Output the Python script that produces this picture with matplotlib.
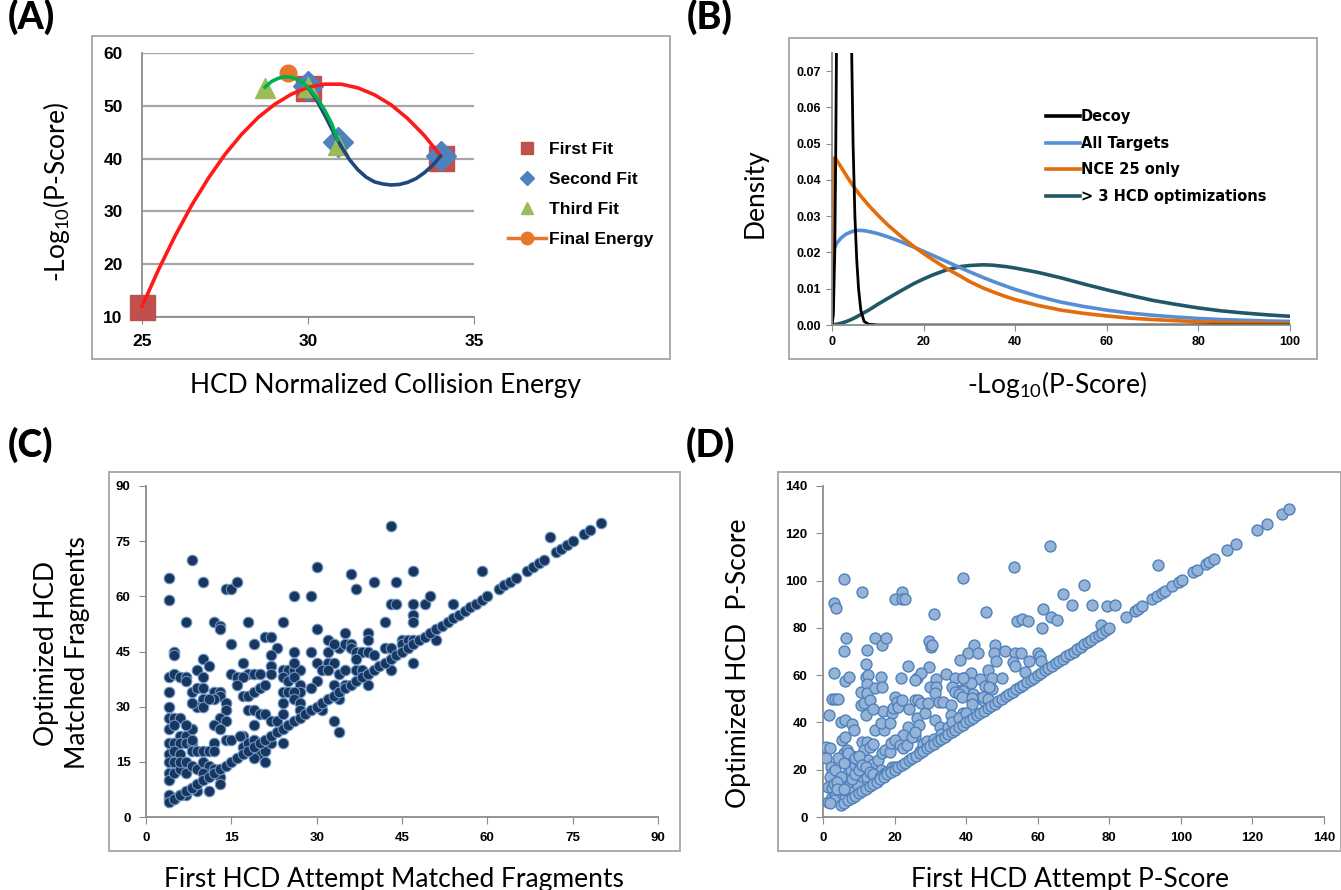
"""Four-panel figure: HCD collision energy optimisation (A), P-score densities (B),
and first-attempt vs optimised scatter plots (C, D)."""

import matplotlib
matplotlib.use("Agg")
import matplotlib.pyplot as plt
from matplotlib.lines import Line2D
from matplotlib.patches import Rectangle

plt.rcParams["mathtext.default"] = "regular"

W, H = 1341, 890
LABEL_FONT = "Lato"
TICK_FONT = ["Liberation Sans", "DejaVu Sans"]
NARROW_FONT = ["Liberation Sans Narrow", "Liberation Sans", "DejaVu Sans"]
LABEL_SIZE = 19

# ---------------- panel A: energy optimisation ----------------
first_fit_x = [25, 30, 34]
first_fit_y = [11.8, 53.3, 40.2]
second_fit_x = [30, 30.9, 34]
second_fit_y = [53.8, 43.1, 40.4]
third_fit_x = [28.7, 30, 30.9]
third_fit_y = [53.3, 53.5, 42.5]
final_x = [29.4]
final_y = [56.3]

red_curve_x = [25, 25.5, 26, 26.5, 27, 27.5, 28, 28.5, 29, 29.5, 30, 30.5, 31,
               31.5, 32, 32.5, 33, 33.5, 34]
red_curve_y = [12.0, 19.0, 25.4, 31.2, 36.3, 40.8, 44.6, 47.8, 50.3, 52.2, 53.5,
               54.1, 54.1, 53.4, 52.1, 50.2, 47.6, 44.4, 40.5]
blue_curve_x = [30, 30.25, 30.5, 30.75, 31, 31.25, 31.5, 31.75, 32, 32.25, 32.5,
                32.75, 33, 33.25, 33.5, 33.75, 34]
blue_curve_y = [53.5, 51.2, 48.3, 45.2, 42.3, 39.8, 37.9, 36.5, 35.6, 35.2, 35.0,
                35.1, 35.5, 36.2, 37.3, 38.7, 40.5]
green_curve_x = [28.7, 28.9, 29.1, 29.3, 29.5, 29.7, 29.9, 30.1, 30.3, 30.5, 30.7,
                 30.9]
green_curve_y = [53.5, 54.6, 55.2, 55.5, 55.4, 54.9, 54.1, 52.8, 51.2, 49.2, 46.8,
                 43.5]

# ---------------- panel B: density curves ----------------
decoy_x = [0, 0.3, 0.6, 0.8, 1.0, 1.5, 2.5, 3.5, 4.0, 4.3, 4.6, 5.0, 5.4, 5.8,
           6.3, 7.0, 8.0, 10, 100]
decoy_y = [0, 0.003, 0.02, 0.045, 0.08, 0.2, 0.3, 0.2, 0.12, 0.075, 0.05, 0.03,
           0.018, 0.01, 0.004, 0.001, 0.0002, 0, 0]
dens_x = [0, 0.3, 1, 2, 3, 4, 5, 6, 7, 8, 10, 12, 15, 18, 20, 22, 25, 28, 30, 33,
          35, 38, 40, 45, 50, 55, 60, 65, 70, 75, 80, 85, 90, 95, 100]
all_targets = [0.0195, 0.0205, 0.0225, 0.0240, 0.0250, 0.0256, 0.0260, 0.0261,
               0.0260, 0.0258, 0.0252, 0.0244, 0.0230, 0.0214, 0.0203, 0.0192,
               0.0175, 0.0158, 0.0147, 0.0131, 0.0121, 0.0107, 0.0098, 0.0079,
               0.0063, 0.0051, 0.0041, 0.0033, 0.0027, 0.0022, 0.0018, 0.0015,
               0.0013, 0.0011, 0.0010]
nce25_only = [0, 0.0460, 0.0455, 0.0435, 0.0415, 0.0395, 0.0377, 0.0360, 0.0345,
              0.0330, 0.0303, 0.0278, 0.0245, 0.0215, 0.0197, 0.0180, 0.0156,
              0.0135, 0.0120, 0.0102, 0.0092, 0.0078, 0.0070, 0.0054, 0.0041,
              0.0032, 0.0025, 0.0019, 0.0015, 0.0012, 0.0009, 0.0007, 0.0006,
              0.0005, 0.0004]
over3_hcd = [0, 0.00005, 0.0002, 0.0005, 0.0009, 0.0014, 0.0020, 0.0027, 0.0034,
             0.0041, 0.0057, 0.0072, 0.0094, 0.0115, 0.0127, 0.0138, 0.0152,
             0.0161, 0.0164, 0.0166, 0.0165, 0.0161, 0.0157, 0.0145, 0.0130,
             0.0113, 0.0097, 0.0082, 0.0068, 0.0057, 0.0047, 0.0039, 0.0033,
             0.0028, 0.0024]
dens_labels = ["Decoy", "All Targets", "NCE 25 only", "> 3 HCD optimizations"]

# ---------------- panel C: matched fragments ----------------
# peptides whose fragment count did not change (first == optimised)
c_same = [4, 5, 6, 7, 8, 9, 10, 11, 12, 13, 14, 15, 16, 17, 18, 19, 20, 21, 22, 23,
          24, 25, 26, 27, 28, 29, 30, 31, 32, 33, 34, 35, 36, 37, 38, 39, 40, 41,
          42, 43, 44, 45, 46, 47, 48, 49, 50, 51, 52, 53, 54, 55, 56, 57, 58, 59,
          60, 62, 63, 64, 65, 67, 68, 69, 70, 72, 73, 74, 75, 77, 78, 80]
c_first = [8, 4, 4, 10, 14, 15, 16, 26, 29, 30, 36, 37, 40, 44, 43, 47, 71, 59,
           7, 12, 13, 13, 18, 24, 30, 42, 47, 47,
           43, 44, 47, 49, 50, 54,
           15, 19, 21, 22, 23, 22, 26, 5, 5,
           29, 32, 34, 35, 32, 33, 35, 36, 36, 37, 38, 39, 39, 39, 40, 42, 43, 45,
           45, 46, 47, 47, 43, 51,
           10, 11, 9, 10, 4, 5, 6, 7, 7,
           17, 15, 16, 18, 19, 20, 17, 22, 22, 24, 25, 26, 27, 24, 25, 26, 26,
           30, 32, 33, 31, 32, 34, 35, 37, 37, 38, 39, 39, 35, 33, 27, 30, 29, 27,
           34, 34, 31, 33, 34,
           4, 4, 8, 9, 10, 10, 9, 10, 8, 12, 13, 13, 12, 11, 14, 14, 13, 14, 12, 13,
           16, 17, 18, 19, 20, 21,
           24, 25, 26, 26, 27, 27, 24,
           4, 5, 6, 4, 4, 4, 5, 6, 7, 5, 6, 7, 8, 5, 6, 8, 9, 10, 11, 12, 12, 8, 7, 8,
           14, 15, 18, 19, 20, 21, 22, 23, 24, 19,
           17, 17, 18, 19, 20, 21, 22, 16.5, 19, 21, 24,
           4, 4, 4, 5, 5, 6, 6, 7, 7, 8, 9, 10, 11, 12, 10, 13, 13, 11, 9, 8, 7, 6, 4,
           5, 4]
c_opt = [70, 65, 59, 64, 62, 62, 64, 60, 60, 68, 66, 62, 64, 64, 79, 67, 76, 67,
         53, 53, 52, 51, 53, 53, 51, 53, 55, 53,
         58, 58, 58, 58, 60, 58,
         47, 47, 49, 49, 46, 44, 45, 45, 44,
         45, 45, 46, 47, 48, 47, 50, 47, 46, 45, 45, 45, 50, 48, 44, 46, 46, 48,
         47, 48, 48, 42, 40, 48,
         43, 41, 40, 38, 38, 39, 38, 38, 37,
         42, 39, 38, 39, 39, 39, 38, 41, 39, 40, 40, 40, 40, 38, 37, 42, 38,
         42, 42, 42, 40, 40, 39, 40, 43, 40, 40, 39, 36, 36, 36, 36, 37, 35, 34,
         34, 32, 29, 26, 23,
         34, 30, 34, 35, 35, 32, 30, 30, 31, 34, 34, 33, 32, 32, 31, 29, 27, 26, 25,
         24,
         36, 33, 33, 34, 35, 36,
         34, 34, 34, 32, 31, 29, 31,
         27, 27, 27, 24, 20, 17, 25, 22, 22, 20, 20, 20, 20, 18, 17, 18, 18, 18, 18,
         20, 18, 24, 25, 21,
         21, 21, 29, 29, 28, 28, 26, 26, 28, 25,
         22, 19, 20, 21, 17, 18, 20, 22, 16, 15, 20,
         15, 12, 10, 15, 12, 13, 15, 15, 12, 14, 13, 15, 14, 13, 12, 11, 9, 7, 7, 8,
         6, 6, 5, 5, 6]

# ---------------- panel D: P-scores ----------------
d_same = [5, 6, 7, 8, 9, 10, 11, 12, 13, 14, 15, 16, 17, 18, 19, 20, 21, 22, 23,
          24, 25, 26, 27, 28, 29, 30, 31, 32, 33, 34, 35, 36, 37, 38, 39, 40, 41,
          42, 43, 44, 45, 46, 47, 48, 49, 50, 51, 52, 53, 54, 55, 56, 57, 58, 59,
          60, 61, 62, 63, 64, 65, 66, 67, 68, 69, 70, 71, 72, 73, 74, 75, 76, 77,
          78, 79, 80, 84.6, 87.2, 88, 89.2, 92, 93.4, 94.6, 95.6, 97.6, 99.5,
          100.3, 103.5, 104.4, 107, 107.8, 109.2, 112.8, 115.4, 121.4, 124, 128.2,
          130.2]
d_first = [6, 11, 3, 3.5, 20, 22, 22, 23, 31, 39, 53.5, 63.5, 45.6, 54.2, 55.5,
           57.4, 61.5, 61.3, 63.7, 65.4, 67.2, 69.7, 72.8, 75.1, 79.3, 81.5, 93.7,
           77.7,
           6.3, 6, 14.5, 16.4, 17.6, 12.2, 29.7, 30.2, 30.5, 42.3, 40.6, 43.2, 48,
           47.7, 50.9, 53.7, 55.2, 60.2, 60.5, 61,
           3.2, 11.9, 12, 12.7, 6.1, 7.4, 16.2, 21.9, 23.8, 29.7, 26.3, 27.4, 25.7,
           31.5, 34.3, 36.9, 38.3, 53.2, 53.6, 57.6, 48.3, 46.2, 41.4, 39.1, 43.8,
           47.2, 50, 56.4,
           10.5, 12.2, 12.4, 14.5, 16.4, 29.9, 31.5, 31.3, 38.7, 41.4, 45.3, 47.3,
           46.4, 39.2, 36, 37, 38, 42, 44, 45,
           2.4, 3.4, 4.3, 1.8, 5, 6.1, 8, 8.8, 10.6, 11.5, 13.1, 16.9, 19.2, 19.6,
           14.5, 17.1, 16.2, 18.8, 20.1, 20.6, 21, 22.2, 24, 25.7, 26.6, 27.4,
           26.4, 26.8, 28.5, 29.4, 23.8, 32.4, 33.6, 31.3, 32.7, 35.7, 35.7, 39.2,
           38.9, 44.7, 46.2, 41.6, 41.6, 39.2, 12, 14,
           5.2, 6.1, 25.7, 22.4, 0.7, 2, 0.8, 2.2, 2.4, 2, 1.5, 2.4, 1.3, 2.6, 3.4,
           5.2, 4.7, 6.1, 7.1, 7.8, 5.9, 6.6, 8, 10.8, 12.2, 11.5, 13.1, 14.1, 8.9,
           9.9, 10.8, 12.7, 14.1, 15.5, 16.4, 17.3, 18.7, 19, 20.1, 21.5, 16.2,
           17.3, 19.2, 10.8, 12.2, 13.6, 7.1, 8.8, 9.9, 22.4, 23.4, 24.8, 25.7,
           4.3, 3.4, 5, 3, 4, 6, 7, 9, 10, 3, 2, 4, 6, 8, 9, 10, 11, 12, 13, 14, 16,
           18, 20, 27, 28, 29, 31, 33, 35, 36, 38, 40]
d_opt = [100.5, 95, 90.4, 88.3, 92.2, 95, 92.2, 92, 86, 101, 105.7, 114.6, 86.9,
         82.9, 83.7, 83, 88.1, 80, 84.6, 83.3, 94.4, 89.8, 98.3, 89.8, 89.2, 89.8,
         106.7, 81.2,
         75.6, 70.4, 75.6, 72.8, 75.6, 70.7, 74.6, 71.8, 72.8, 72.8, 69.5, 69.5,
         72.8, 69.5, 70.4, 69.5, 69.5, 69.5, 68, 66,
         61.1, 64.6, 59.1, 60, 57.7, 59.1, 59.1, 59, 64, 63.6, 58.9, 60.8, 58,
         58.4, 60.5, 59, 66.4, 65.5, 63.7, 66, 66, 62.2, 61, 58.6, 58.3, 58.8,
         58.8, 61.4,
         53, 56.3, 52.3, 54.4, 55.1, 55.1, 54.9, 52.3, 53.7, 56.5, 55.4, 54, 55,
         53.4, 55, 53, 52, 52, 50.5, 49,
         49.8, 49.8, 49.8, 43.2, 40.3, 41, 39.4, 36.8, 47.4, 48.1, 49.5, 45, 44.1,
         46, 36.8, 36.8, 39.9, 39.6, 50.9, 48.5, 46.7, 49.5, 45.6, 49.5, 49.5,
         48.4, 41.7, 38.9, 43.9, 48.1, 37.9, 48.8, 48.8, 41, 38.2, 47.4, 43.2, 59,
         50.9, 50.6, 49.8, 50.2, 47.8, 43.8, 43, 45.5,
         32.6, 34, 34.3, 34.7, 29.8, 29, 24.8, 21.3, 18.5, 16.8, 12.6, 12.1, 6.5,
         8.6, 8.9, 11.4, 17.1, 15, 18.5, 19.9, 26.9, 28.3, 25.8, 31.9, 31.9, 28.3,
         29.8, 30.9, 22, 24.1, 21.3, 24.1, 22.4, 24.1, 26.9, 28.3, 27.6, 31.5,
         32.6, 30.5, 19.9, 18.5, 21.3, 15.7, 17.1, 18.5, 12.8, 11.1, 13.1, 29,
         30.5, 34, 36.1,
         24.8, 19.9, 17.1, 14, 15, 23, 27, 25, 26, 7, 6, 12, 12, 16, 18, 20, 22, 21,
         19, 18, 17, 19, 21, 28, 31, 32, 33, 35, 38, 40, 42, 44]


def px_axes(fig, left, top, right, bottom):
    return fig.add_axes([left / W, 1 - bottom / H, (right - left) / W,
                         (bottom - top) / H])


def frame(fig, left, top, right, bottom):
    fig.add_artist(Rectangle((left / W, 1 - bottom / H), (right - left) / W,
                             (bottom - top) / H, transform=fig.transFigure,
                             fill=False, ec="#ABABAB", lw=1.4))


def ftext(fig, x, y, s, **kw):
    fig.text(x / W, 1 - y / H, s, **kw)


def style_axes(ax, fontsize, family=TICK_FONT):
    for side in ("top", "right"):
        ax.spines[side].set_visible(False)
    for side in ("left", "bottom"):
        ax.spines[side].set_color("#8C8C8C")
        ax.spines[side].set_linewidth(1.3)
    for t in ax.get_xticklabels() + ax.get_yticklabels():
        t.set_family(family)
        t.set_fontweight("bold")
        t.set_fontsize(fontsize)


fig = plt.figure(figsize=(W / 100, H / 100), dpi=100)

# frames and panel letters
frame(fig, 92, 36, 670, 359)
frame(fig, 789, 38, 1317, 359)
frame(fig, 109, 472, 680, 851)
frame(fig, 778, 472, 1341, 851)
for letter, x, y in [("(A)", 8, -1), ("(B)", 687, -1), ("(C)", 8, 427), ("(D)", 686, 427)]:
    ftext(fig, x, y, letter, family=LABEL_FONT, fontsize=27, fontweight="black",
          va="top", ha="left")

# ---------- A ----------
axA = px_axes(fig, 142, 53, 474, 317)
axA.set_xlim(25, 35)
axA.set_ylim(10, 60)
axA.set_xticks([25, 30, 35])
axA.set_yticks([10, 20, 30, 40, 50, 60])
axA.grid(axis="y", color="#A6A6A6", lw=1.6)
axA.set_axisbelow(True)
axA.tick_params(axis="y", length=0, pad=14)
axA.tick_params(axis="x", length=5, color="#8C8C8C", pad=7)
style_axes(axA, 12.5)

axA.plot(first_fit_x, first_fit_y, ls="none", marker="s", ms=18,
         color="#C0504D", clip_on=False, zorder=3)
axA.plot(second_fit_x, second_fit_y, ls="none", marker="D", ms=15,
         color="#4F81BD", clip_on=False, zorder=4)
axA.plot(third_fit_x, third_fit_y, ls="none", marker="^", ms=14,
         color="#9BBB59", clip_on=False, zorder=5)
axA.plot(final_x, final_y, ls="none", marker="o", ms=12, color="#E8762C",
         clip_on=False, zorder=5)
axA.plot(red_curve_x, red_curve_y, color="#FF1A1A", lw=2.6, zorder=6,
         clip_on=False, solid_capstyle="round")
axA.plot(blue_curve_x, blue_curve_y, color="#1F497D", lw=2.6, zorder=6,
         solid_capstyle="round")
axA.plot(green_curve_x, green_curve_y, color="#00B050", lw=2.6, zorder=7,
         solid_capstyle="round")

handles_a = [
    Line2D([], [], ls="none", marker="s", ms=9, color="#C0504D"),
    Line2D([], [], ls="none", marker="D", ms=7, color="#4F81BD"),
    Line2D([], [], ls="none", marker="^", ms=9, color="#9BBB59"),
    Line2D([], [], color="#E8762C", lw=2.5, marker="o", ms=9),
]
fig.legend(handles_a, ["First Fit", "Second Fit", "Third Fit", "Final Energy"],
           loc="upper left", bbox_to_anchor=(508 / W, 1 - 142 / H),
           frameon=False, handlelength=2.2, handletextpad=0.15,
           labelspacing=0.85, borderpad=0, borderaxespad=0,
           prop={"family": TICK_FONT, "weight": "bold", "size": 12.5})

ftext(fig, 385, 393, "HCD Normalized Collision Energy", family=LABEL_FONT,
      fontsize=LABEL_SIZE, ha="center", va="baseline")
ftext(fig, 57, 192, "-Log$_{10}$(P-Score)", family=LABEL_FONT,
      fontsize=LABEL_SIZE, rotation=90, ha="center", va="center")

# ---------- B ----------
axB = px_axes(fig, 832, 53, 1290, 325)
axB.set_xlim(0, 100)
axB.set_ylim(0, 0.075)
axB.set_xticks([0, 20, 40, 60, 80, 100])
axB.set_yticks([0, 0.01, 0.02, 0.03, 0.04, 0.05, 0.06, 0.07])
axB.yaxis.set_major_formatter(matplotlib.ticker.FormatStrFormatter("%.2f"))
axB.tick_params(length=4, color="#8C8C8C", pad=4)
axB.plot(dens_x, over3_hcd, color="#205867", lw=2.6, label=dens_labels[3])
axB.plot(dens_x, all_targets, color="#558ED5", lw=2.6, label=dens_labels[1])
axB.plot(dens_x, nce25_only, color="#E46C0A", lw=2.6, label=dens_labels[2])
axB.plot(decoy_x, decoy_y, color="black", lw=2.0, label=dens_labels[0])
style_axes(axB, 9, NARROW_FONT)
handles_b = [Line2D([], [], color=c, lw=2.6)
             for c in ["black", "#558ED5", "#E46C0A", "#205867"]]
fig.legend(handles_b, dens_labels, loc="upper left",
           bbox_to_anchor=(1046 / W, 1 - 109 / H), frameon=False,
           handlelength=2.3, handletextpad=0.1, labelspacing=0.8, borderpad=0,
           borderaxespad=0,
           prop={"family": "DejaVu Sans", "weight": "bold", "size": 10.5})
ftext(fig, 1057, 393, "-Log$_{10}$(P-Score)", family=LABEL_FONT,
      fontsize=LABEL_SIZE, ha="center", va="baseline")
ftext(fig, 755, 193, "Density", family=LABEL_FONT, fontsize=LABEL_SIZE,
      rotation=90, ha="center", va="center")

# ---------- C ----------
axC = px_axes(fig, 146, 486, 658, 817)
axC.set_xlim(0, 90)
axC.set_ylim(0, 90)
axC.set_xticks(range(0, 91, 15))
axC.set_yticks(range(0, 91, 15))
axC.tick_params(length=5, color="#8C8C8C", pad=6)
axC.scatter(c_first, c_opt, s=58, c="#17375E", edgecolors="#7096C8",
            linewidths=0.8, zorder=3)
axC.scatter(c_same, c_same, s=58, c="#17375E", edgecolors="#7096C8",
            linewidths=0.8, zorder=3)
style_axes(axC, 9.5)
ftext(fig, 394, 887, "First HCD Attempt Matched Fragments", family=LABEL_FONT,
      fontsize=LABEL_SIZE, ha="center", va="baseline")
ftext(fig, 62, 653, "Optimized HCD\nMatched Fragments", family=LABEL_FONT,
      fontsize=LABEL_SIZE, rotation=90, ha="center", va="center",
      linespacing=1.25, multialignment="center")

# ---------- D ----------
axD = px_axes(fig, 823, 486, 1324, 817)
axD.set_xlim(0, 140)
axD.set_ylim(0, 140)
axD.set_xticks(range(0, 141, 20))
axD.set_yticks(range(0, 141, 20))
axD.tick_params(length=5, color="#8C8C8C", pad=6)
axD.scatter(d_first, d_opt, s=62, c="#95B3D7", edgecolors="#4F81BD",
            linewidths=1.0, zorder=3)
axD.scatter(d_same, d_same, s=62, c="#95B3D7", edgecolors="#4F81BD",
            linewidths=1.0, zorder=3)
style_axes(axD, 9.5)
ftext(fig, 1070, 887, "First HCD Attempt P-Score", family=LABEL_FONT,
      fontsize=LABEL_SIZE, ha="center", va="baseline")
ftext(fig, 739, 663, "Optimized HCD  P-Score", family=LABEL_FONT,
      fontsize=LABEL_SIZE, rotation=90, ha="center", va="center")

fig.savefig("out.png", dpi=100)
